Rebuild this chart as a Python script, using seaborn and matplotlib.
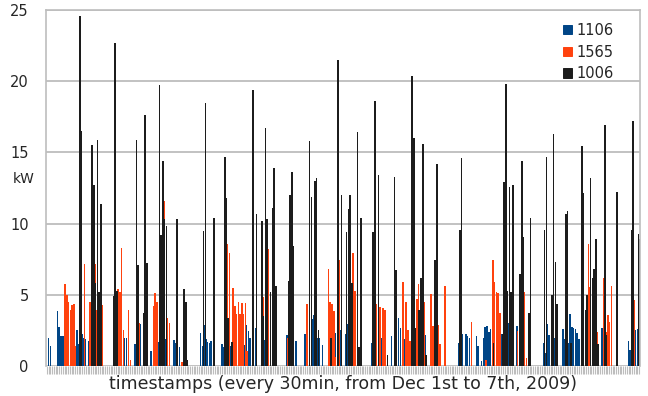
import numpy as np
import pandas as pd
import seaborn as sns
import matplotlib
matplotlib.use('Agg')
import matplotlib.pyplot as plt

# 336 half-hour timestamps, Dec 1st to 7th 2009; values are kW
n_ts = 336
meters = ['1106', '1565', '1006']
colors = ['#004586', '#ff420e', '#1c1c1c']

# meter 1106 (blue): timestamp index / kW
m1106_idx = [1, 2, 6, 7, 8, 9, 17, 18, 19, 20,
             21, 22, 24, 26, 27, 40, 44, 45, 50, 53,
             55, 56, 57, 59, 62, 63, 65, 67, 68, 72,
             73, 74, 75, 87, 88, 89, 90, 91, 92, 93,
             99, 100, 104, 105, 110, 112, 113, 114, 115, 117,
             118, 123, 136, 137, 138, 139, 141, 146, 147, 150,
             151, 152, 153, 154, 156, 161, 162, 163, 165, 166,
             169, 170, 172, 184, 185, 188, 189, 195, 199, 200,
             202, 203, 207, 211, 212, 214, 220, 233, 234, 235,
             237, 238, 239, 243, 244, 246, 247, 248, 249, 250,
             251, 257, 259, 260, 261, 263, 266, 268, 281, 282,
             283, 284, 286, 287, 292, 293, 295, 296, 297, 298,
             299, 300, 301, 305, 309, 310, 314, 316, 329, 330,
             332, 333, 334, 335]
m1106_kw = [2.0, 1.4, 3.85, 2.75, 2.1, 2.1, 2.5, 1.55, 3.1, 2.25,
            2.0, 1.9, 1.75, 1.3, 1.5, 1.5, 2.0, 2.0, 1.55, 2.95,
            2.4, 1.4, 1.6, 1.05, 2.45, 1.7, 2.3, 1.9, 1.85, 1.85,
            1.6, 1.5, 1.35, 2.3, 1.4, 2.9, 1.9, 1.7, 1.6, 1.75,
            1.55, 1.3, 1.4, 1.7, 2.45, 1.5, 2.9, 2.45, 2.0, 2.6,
            2.65, 1.85, 2.2, 2.9, 1.85, 1.7, 1.75, 2.25, 1.5, 3.3,
            3.6, 2.9, 2.0, 2.0, 1.5, 2.1, 2.3, 2.3, 2.9, 2.5,
            2.25, 2.95, 1.9, 1.6, 1.0, 2.0, 2.0, 2.1, 3.35, 2.65,
            1.9, 1.9, 3.15, 2.4, 2.4, 2.2, 3.1, 1.6, 2.95, 2.25,
            2.25, 2.1, 2.0, 2.1, 1.4, 0.35, 2.0, 2.75, 2.8, 2.4,
            2.6, 2.25, 3.35, 3.2, 3.0, 2.5, 2.8, 2.4, 1.6, 0.9,
            2.95, 2.2, 2.1, 2.0, 2.6, 1.9, 1.6, 3.65, 2.75, 2.65,
            2.6, 2.3, 1.9, 2.6, 2.6, 1.75, 2.65, 2.3, 1.75, 1.1,
            2.95, 2.5, 2.6, 2.6]

# meter 1565 (orange)
m1565_idx = [10, 11, 12, 13, 14, 15, 16, 21, 24, 27,
             28, 30, 31, 40, 41, 42, 43, 46, 47, 51,
             52, 60, 61, 62, 66, 68, 69, 76, 78, 101,
             102, 103, 105, 106, 107, 108, 109, 110, 111, 112,
             113, 121, 122, 125, 136, 147, 159, 160, 161, 162,
             163, 165, 171, 172, 173, 174, 186, 188, 190, 191,
             201, 203, 204, 205, 209, 210, 213, 217, 218, 221,
             222, 225, 240, 248, 252, 253, 254, 255, 256, 266,
             269, 270, 271, 306, 307, 311, 315, 316, 317, 318,
             319, 331, 332]
m1565_kw = [5.75, 5.0, 4.5, 3.9, 4.3, 4.35, 1.4, 7.15, 4.5, 7.15,
            3.95, 5.9, 4.3, 5.4, 5.2, 8.3, 2.5, 3.9, 0.4, 2.3,
            3.0, 4.2, 5.1, 4.5, 11.6, 3.4, 3.0, 0.3, 3.15, 5.75,
            8.55, 7.95, 5.5, 4.2, 3.65, 4.5, 3.65, 4.4, 3.65, 4.4,
            1.05, 4.2, 4.85, 8.2, 2.0, 4.35, 6.8, 4.5, 4.35, 3.85,
            0.6, 7.45, 2.0, 0.2, 7.95, 5.25, 4.35, 4.15, 4.1, 3.95,
            5.9, 4.5, 2.5, 1.75, 4.7, 5.75, 4.5, 5.05, 2.8, 2.85,
            1.55, 5.6, 3.1, 0.4, 7.45, 5.9, 5.2, 5.1, 3.7, 2.45,
            7.65, 5.2, 0.55, 8.6, 5.55, 2.4, 6.2, 2.4, 3.6, 3.1,
            5.6, 5.75, 4.6]

# meter 1006 (black)
m1006_idx = [18, 19, 25, 26, 27, 28, 29, 30, 37, 38,
             39, 50, 51, 54, 55, 56, 63, 64, 65, 66,
             67, 73, 77, 78, 79, 88, 89, 94, 100, 101,
             102, 104, 116, 118, 121, 122, 123, 124, 126, 127,
             128, 129, 136, 137, 138, 139, 148, 149, 151, 152,
             153, 160, 164, 166, 169, 170, 171, 172, 175, 176,
             177, 184, 185, 187, 192, 196, 197, 206, 207, 208,
             210, 211, 212, 214, 219, 220, 233, 234, 252, 257,
             258, 259, 260, 261, 262, 263, 267, 268, 269, 272,
             273, 281, 282, 285, 286, 287, 288, 293, 294, 296,
             302, 303, 304, 305, 307, 308, 309, 310, 311, 315,
             316, 322, 330, 331, 334, 335]
m1006_kw = [24.6, 16.5, 15.5, 12.7, 5.8, 15.9, 5.2, 11.4, 4.9, 22.7,
            5.3, 15.9, 7.1, 3.75, 17.6, 7.2, 19.7, 9.2, 14.4, 10.3,
            9.8, 10.3, 5.4, 4.5, 0.4, 9.5, 18.45, 10.4, 14.7, 11.8,
            3.35, 1.7, 19.4, 10.7, 10.2, 3.5, 16.7, 10.3, 5.2, 11.1,
            13.9, 5.6, 6.0, 12.0, 13.6, 8.4, 15.8, 11.9, 13.0, 13.2,
            2.5, 1.95, 21.5, 12.0, 9.4, 11.0, 12.0, 5.85, 16.4, 1.3,
            10.4, 9.4, 18.6, 13.4, 0.75, 13.25, 6.75, 20.4, 16.0, 2.65,
            3.9, 6.2, 15.6, 0.75, 7.45, 14.2, 9.55, 14.6, 1.6, 2.25,
            12.9, 19.8, 5.25, 12.6, 5.2, 12.7, 6.45, 14.4, 9.05, 3.7,
            10.4, 9.55, 14.7, 5.0, 16.3, 7.3, 4.35, 10.7, 10.9, 1.6,
            15.45, 12.15, 3.9, 5.0, 13.2, 6.2, 6.8, 8.9, 1.55, 16.9,
            2.2, 12.2, 9.55, 17.2, 9.3, 8.9]

rows = []
for name, idx, kw in [('1106', m1106_idx, m1106_kw),
                      ('1565', m1565_idx, m1565_kw),
                      ('1006', m1006_idx, m1006_kw)]:
    full = np.zeros(n_ts)
    full[idx] = kw
    for t in range(n_ts):
        rows.append((t, name, full[t]))
df = pd.DataFrame(rows, columns=['ts', 'meter', 'kW'])

sns.set_style('white')
fig = plt.figure(figsize=(6.48, 3.96), dpi=100)
ax = fig.add_axes([46 / 648, 1 - 366 / 396, 594 / 648, 356 / 396])

sns.barplot(data=df, x='ts', y='kW', hue='meter', hue_order=meters,
            palette=colors, width=0.95, errorbar=None, ax=ax,
            linewidth=0.7, saturation=1)
# bars are thinner than a pixel: draw them crisp with a same-colour edge
for bar in ax.patches:
    bar.set_edgecolor(bar.get_facecolor())
    bar.set_antialiased(False)

ax.set_ylim(0, 25)
ax.set_xlim(-0.5, n_ts - 0.5)
ax.set_yticks([0, 5, 10, 15, 20, 25])
ax.yaxis.grid(True, color='#bdbdbd', linewidth=1.3)
ax.set_axisbelow(True)

ax.set_xticks(range(n_ts))
ax.set_xticklabels([''] * n_ts)
ax.tick_params(axis='x', bottom=True, length=6, width=0.8, color='#bdbdbd', direction='out')
ax.tick_params(axis='y', left=False, pad=9, labelsize=10.5)

for s in ['left', 'right', 'top']:
    ax.spines[s].set_color('#bdbdbd')
    ax.spines[s].set_linewidth(1.2)
ax.spines['bottom'].set_visible(False)

ax.set_xlabel('timestamps (every 30min, from Dec 1st to 7th, 2009)', fontsize=12.5, va='center')
ax.xaxis.set_label_coords(0.5, -0.05)
ax.set_ylabel('kW', rotation=0, fontsize=10)
ax.yaxis.set_label_coords(-0.037, 0.505)

ax.legend(loc='upper right', bbox_to_anchor=(0.965, 0.98), frameon=False,
          fontsize=10.5, handlelength=0.6, handleheight=0.6, handletextpad=0.3,
          labelspacing=0.45, borderaxespad=0)

fig.savefig('out.png', dpi=100)
